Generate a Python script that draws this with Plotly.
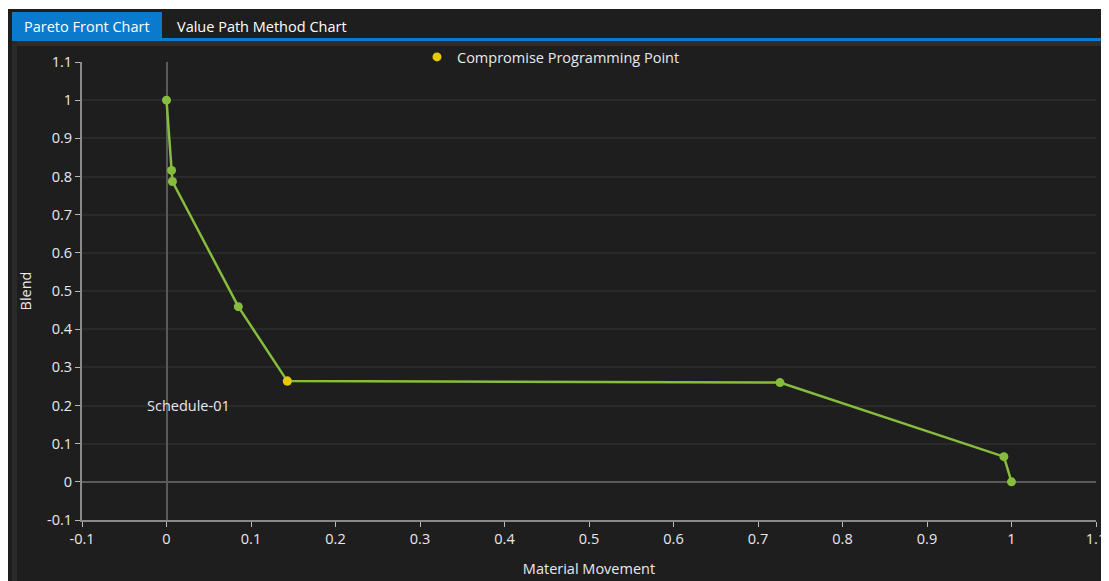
import plotly.graph_objects as go

# Data
material_movement = [0.0, 0.006, 0.007, 0.085, 0.143, 0.726, 0.991, 1.0]
blend = [1.0, 0.816, 0.787, 0.459, 0.264, 0.260, 0.066, 0.0]
compromise_x = [0.143]
compromise_y = [0.264]
label_text = "Schedule-01"
label_x, label_y = 0.026, 0.2
tick_vals = [-0.1, 0, 0.1, 0.2, 0.3, 0.4, 0.5, 0.6, 0.7, 0.8, 0.9, 1, 1.1]
tick_text = ["-0.1", "0", "0.1", "0.2", "0.3", "0.4", "0.5", "0.6", "0.7", "0.8", "0.9", "1", "1.1"]
tabs = ["Pareto Front Chart", "Value Path Method Chart"]

W, H = 1109, 581
OFF = 8  # page body margin
L, R, T, B = 74, 21, 54, 69
PW, PH = W - L - R, H - T - B

def px(x):
    # x in screenshot pixels -> paper coords
    return (x - OFF - L) / PW

def py(y):
    return (H - B - (y - OFF)) / PH

FONT = "Open Sans"
FS = 14.5
GREEN = "#86bd3c"
YELLOW = "#e8c800"
TXT = "#e8e8ee"

fig = go.Figure()
fig.add_trace(go.Scatter(
    x=material_movement, y=blend, mode="lines+markers",
    line=dict(color=GREEN, width=2.5),
    marker=dict(color=GREEN, size=9),
    showlegend=False, hoverinfo="x+y"))
fig.add_trace(go.Scatter(
    x=compromise_x, y=compromise_y, mode="markers",
    marker=dict(color=YELLOW, size=9),
    name="Compromise Programming Point"))

shapes = [
    dict(type="rect", xref="paper", yref="paper", x0=px(0), x1=px(W + 20), y0=py(8), y1=py(9),
         fillcolor="#ffffff", line_width=0, layer="below"),
    dict(type="rect", xref="paper", yref="paper", x0=px(12), x1=px(162), y0=py(12), y1=py(40),
         fillcolor="#0a7acc", line_width=0, layer="below"),
    dict(type="rect", xref="paper", yref="paper", x0=px(12), x1=px(W + 20), y0=py(38), y1=py(41),
         fillcolor="#0a7acc", line_width=0, layer="below"),
    dict(type="rect", xref="paper", yref="paper", x0=px(12), x1=px(W + 20), y0=py(41), y1=py(46),
         fillcolor="#2d2d2d", line_width=0, layer="below"),
    dict(type="rect", xref="paper", yref="paper", x0=px(12), x1=px(17), y0=py(41), y1=py(H + 20),
         fillcolor="#2a2a2a", line_width=0, layer="below"),
]

annotations = [
    dict(text=tabs[0], xref="paper", yref="paper", x=px(87), y=py(26), showarrow=False,
         font=dict(family=FONT, size=FS, color="#ffffff"), xanchor="center", yanchor="middle"),
    dict(text=tabs[1], xref="paper", yref="paper", x=px(262), y=py(26), showarrow=False,
         font=dict(family=FONT, size=FS, color="#ffffff"), xanchor="center", yanchor="middle"),
    dict(text=label_text, x=label_x, y=label_y, xref="x", yref="y", showarrow=False,
         font=dict(family=FONT, size=FS, color=TXT), xanchor="center", yanchor="middle"),
]

axis_common = dict(
    range=[-0.1, 1.1], tickvals=tick_vals, ticktext=tick_text,
    showline=True, linecolor="#8a8a8a", linewidth=2,
    ticks="outside", ticklen=5, tickcolor="#bbbbbb", tickwidth=1,
    tickfont=dict(family=FONT, size=FS, color=TXT),
    zeroline=True, zerolinecolor="#5a5a5a", zerolinewidth=2,
    fixedrange=True,
)

fig.update_layout(
    width=W, height=H,
    margin=dict(l=L, r=R, t=T, b=B),
    paper_bgcolor="#1e1e1e", plot_bgcolor="#1e1e1e",
    font=dict(family=FONT, color=TXT),
    shapes=shapes, annotations=annotations,
    showlegend=True,
    legend=dict(orientation="h", x=px(417), y=py(57), xanchor="left", yanchor="middle",
                bgcolor="rgba(0,0,0,0)", font=dict(family=FONT, size=FS, color=TXT),
                itemwidth=30),
    xaxis=dict(**axis_common, showgrid=False,
               title=dict(text="Material Movement", font=dict(family=FONT, size=FS, color=TXT), standoff=16)),
    yaxis=dict(**axis_common, showgrid=True, gridcolor="#2a2a2a", gridwidth=1.5,
               title=dict(text="Blend", font=dict(family=FONT, size=FS, color=TXT), standoff=12)),
)

fig.write_html("out.html")
